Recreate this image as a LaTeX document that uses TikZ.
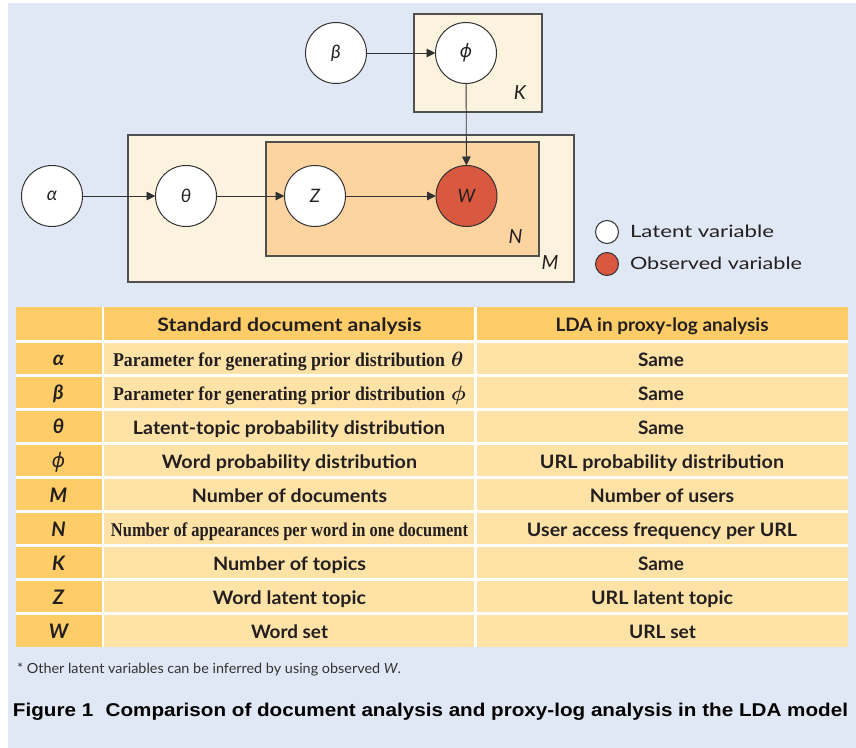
\documentclass[tikz,border=0pt]{standalone}
\usepackage{fontspec}
\usepackage{graphicx}
\setmainfont{Lato}
\newfontfamily\titlefont{Liberation Sans}
\newfontfamily\serifcond{Liberation Serif}
\newfontfamily\greekalt{Noto Sans}
\usetikzlibrary{arrows.meta}
\definecolor{bgblue}{RGB}{225,232,245}
\definecolor{cream}{RGB}{252,243,222}
\definecolor{peach}{RGB}{253,212,160}
\definecolor{gold}{RGB}{254,205,104}
\definecolor{lightgold}{RGB}{254,226,166}
\definecolor{obsred}{RGB}{217,88,64}
\definecolor{ink}{RGB}{35,31,32}
\definecolor{edge}{RGB}{50,50,50}
\definecolor{plategray}{RGB}{80,80,80}
\newcommand\fitw[2]{\resizebox{#1}{\height}{#2}}
\newcommand\cellfont{\fontsize{18.5bp}{20bp}\selectfont\bfseries}
\newcommand\condfont{\serifcond\fontsize{19.5bp}{21bp}\selectfont\bfseries}
\newcommand\symfont{\fontsize{20bp}{22bp}\selectfont\bfseries\itshape}
\newcommand\phisym{{\greekalt ϕ}}
\begin{document}
\begin{tikzpicture}[x=1bp,y=-1bp,
  every node/.style={inner sep=0pt, outer sep=0pt, text=ink},
  var/.style={circle, draw=edge, line width=1bp, fill=white, minimum size=61bp,
    font=\fontsize{18.5bp}{20bp}\selectfont\itshape},
  obs/.style={var, fill=obsred},
  plate/.style={draw=plategray, line width=1.2bp},
  arr/.style={draw=edge, line width=0.9bp, -{Triangle[length=9bp,width=8.5bp]}},
  platelabel/.style={font=\fontsize{19.5bp}{21bp}\selectfont\itshape},
  legdot/.style={circle, draw=edge, line width=1bp, minimum size=23bp},
  legtext/.style={anchor=base west, font=\fontsize{17bp}{19bp}\selectfont},
  sym/.style={anchor=base, font=\symfont},
  cell/.style={anchor=base},
  gridline/.style={white, line width=2.2bp}
]
\useasboundingbox (0,0) rectangle (856,748);
\fill[bgblue] (8,3) rectangle (856,748);

% plates
\draw[plate, fill=cream] (414,14) rectangle (542,112);
\draw[plate, fill=cream] (128,135) rectangle (574,282);
\draw[plate, fill=peach] (266,142) rectangle (539,256);
\node[platelabel] (lK) at (520,93) {K};
\node[platelabel] (lN) at (515.5,237) {N};
\node[platelabel] (lM) at (550,263) {M};

% variables
\node[var] (beta) at (336,53) {β};
\node[var] (phi) at (466,53) {\phisym};
\node[var] (alpha) at (52,196) {α};
\node[var] (theta) at (186,196) {θ};
\node[var] (z) at (315,196) {Z};
\node[obs] (w) at (466.5,196) {W};

\draw[arr] (beta) -- (phi);
\draw[arr] (phi) -- (w);
\draw[arr] (alpha) -- (theta);
\draw[arr] (theta) -- (z);
\draw[arr] (z) -- (w);

% legend
\node[legdot, fill=white] (leglat) at (607,232) {};
\node[legdot, fill=obsred] (legobs) at (607,264) {};
\node[legtext] (tlat) at (630,237.3) {\fitw{144bp}{Latent variable}};
\node[legtext] (tobs) at (630,269.5) {\fitw{172bp}{Observed variable}};

% table background
\fill[lightgold] (16,307.3) rectangle (848,647.3);
\fill[gold] (16,307.3) rectangle (848,341.5);
\fill[gold] (16,307.3) rectangle (103.2,647.3);
\foreach \k in {1,...,9} {
  \draw[gridline] (16,{341.5+34*(\k-1)}) -- (848,{341.5+34*(\k-1)});
}
\draw[gridline] (103.2,307.3) -- (103.2,647.3);
\draw[gridline] (475.5,307.3) -- (475.5,647.3);

% header
\node[cell] (h2) at (289.5,331) {\fitw{264bp}{\cellfont Standard document analysis}};
\node[cell] (h3) at (662,331) {\fitw{213bp}{\cellfont LDA in proxy-log analysis}};

% first column
\node[sym] (s1) at (58.5,365) {α};
\node[sym] (s2) at (58.5,399) {β};
\node[sym] (s3) at (58.5,433) {θ};
\node[sym] (s4) at (58.5,467) {\phisym};
\node[sym] (s5) at (58.5,502) {M};
\node[sym] (s6) at (58.5,536) {N};
\node[sym] (s7) at (58.5,570) {K};
\node[sym] (s8) at (58.5,604) {Z};
\node[sym] (s9) at (58.5,638) {W};

% second column
\node[anchor=base west, font=\fontsize{19bp}{20bp}\selectfont] (c21) at (113,366)
  {\fitw{332bp}{\condfont Parameter for generating prior distribution}\hspace{6bp}{\boldmath$\theta$}};
\node[anchor=base west, font=\fontsize{19bp}{20bp}\selectfont] (c22) at (113,400)
  {\fitw{332bp}{\condfont Parameter for generating prior distribution}\hspace{6bp}{\boldmath$\phi$}};
\node[cell] (c23) at (289,434) {\fitw{312bp}{\cellfont Latent-topic probability distribution}};
\node[cell] (c24) at (289.5,468) {\fitw{255bp}{\cellfont Word probability distribution}};
\node[cell] (c25) at (289.5,502) {\fitw{195bp}{\cellfont Number of documents}};
\node[cell] (c26) at (289.5,536) {\fitw{357bp}{\serifcond\fontsize{19.5bp}{21bp}\selectfont\bfseries Number of appearances per word in one document}};
\node[cell] (c27) at (289.5,570) {\fitw{153bp}{\cellfont Number of topics}};
\node[cell] (c28) at (289.5,604) {\fitw{153bp}{\cellfont Word latent topic}};
\node[cell] (c29) at (289.5,638) {\fitw{77bp}{\cellfont Word set}};

% third column
\node[cell] (c31) at (661,366) {\fitw{46bp}{\cellfont Same}};
\node[cell] (c32) at (661,400) {\fitw{46bp}{\cellfont Same}};
\node[cell] (c33) at (661,434) {\fitw{46bp}{\cellfont Same}};
\node[cell] (c34) at (662,468) {\fitw{244bp}{\cellfont URL probability distribution}};
\node[cell] (c35) at (662,502) {\fitw{144bp}{\cellfont Number of users}};
\node[cell] (c36) at (662,536) {\fitw{270bp}{\cellfont User access frequency per URL}};
\node[cell] (c37) at (661,570) {\fitw{46bp}{\cellfont Same}};
\node[cell] (c38) at (662,604) {\fitw{142bp}{\cellfont URL latent topic}};
\node[cell] (c39) at (662.5,638) {\fitw{67bp}{\cellfont URL set}};

% footnote and caption
\node[anchor=base west, text={rgb,255:red,50;green,50;blue,50}] (foot) at (17,673)
  {\fitw{384bp}{\fontsize{14bp}{16bp}\selectfont * Other latent variables can be inferred by using observed \textit{W}.}};
\node[anchor=base west, text=black] (cap) at (13,716)
  {\fitw{835bp}{\titlefont\fontsize{18.5bp}{20bp}\selectfont\bfseries Figure 1\hspace{0.6em}Comparison of document analysis and proxy-log analysis in the LDA model}};
\end{tikzpicture}
\end{document}
